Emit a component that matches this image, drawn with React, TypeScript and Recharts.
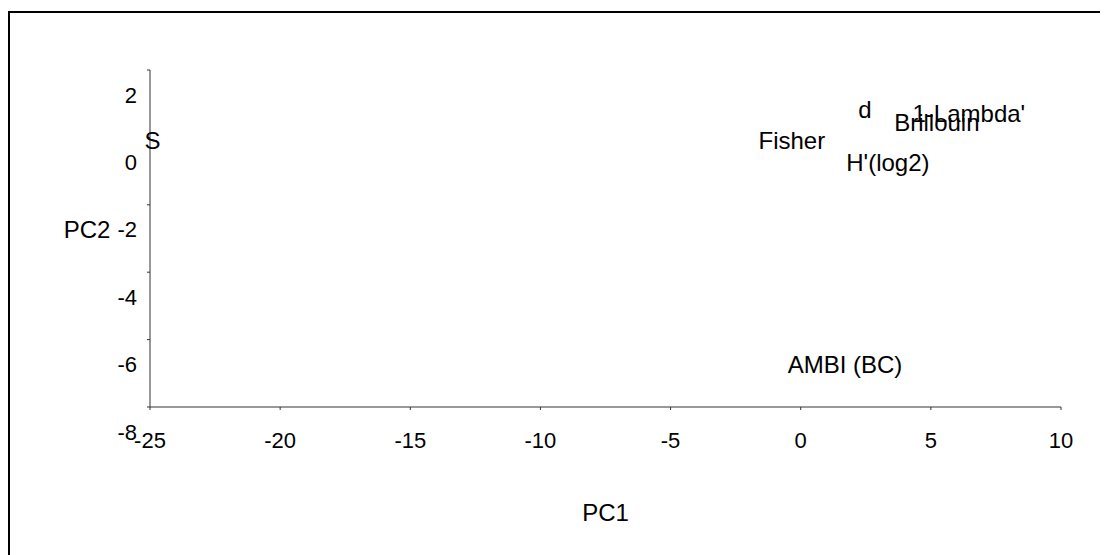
import { ScatterChart, Scatter, XAxis, YAxis } from 'recharts';

const names = ['S', 'd', 'Fisher', "H'(log2)", 'Brillouin', "1-Lambda'", 'AMBI (BC)'];
const pc1 = [-24.9, 2.47, -0.34, 3.35, 5.23, 6.46, 1.7];
const pc2 = [-0.08, 0.84, -0.08, -0.73, 0.43, 0.72, -6.75];
const xTicks = [-25, -20, -15, -10, -5, 0, 5, 10];
const yTicks = [-8, -6, -4, -2, 0, 2];

const points = names.map((name, i) => ({ name, x: pc1[i], y: pc2[i] }));

const font = 'Arial, "Liberation Sans", sans-serif';

const NameMark = (props: any) => {
    const { cx, cy, payload } = props;
    return (
        <text x={cx} y={cy} textAnchor="middle" dominantBaseline="central" fontSize={24} fontFamily={font} fill="#000">
            {payload.name}
        </text>
    );
};

const XTick = ({ x, y, payload }: any) => (
    <text x={x} y={y + 28} textAnchor="middle" dominantBaseline="central" fontSize={22} fontFamily={font} fill="#000">
        {payload.value}
    </text>
);

const YTick = ({ x, y, payload }: any) => (
    <text x={x - 8} y={y + 25} textAnchor="end" dominantBaseline="central" fontSize={22} fontFamily={font} fill="#000">
        {payload.value}
    </text>
);

const App = () => {
    return (
        <div style={{ marginTop: 3, width: 1100, height: 542, borderTop: '2px solid #000', borderLeft: '2px solid #000', background: '#fff' }}>
            <ScatterChart width={1098} height={540} margin={{ top: 57, right: 47, bottom: 26, left: 0 }}>
                <XAxis
                    type="number"
                    dataKey="x"
                    domain={[-25, 10]}
                    ticks={xTicks}
                    height={120}
                    stroke="#333"
                    tickSize={3}
                    tick={<XTick />}
                    label={(p: any) => {
                        const vb = p.viewBox;
                        return (
                            <text x={vb.x + vb.width / 2} y={vb.y + 105} textAnchor="middle" dominantBaseline="central" fontSize={24} fontFamily={font} fill="#000">
                                PC1
                            </text>
                        );
                    }}
                />
                <YAxis
                    type="number"
                    dataKey="y"
                    domain={[-8, 2]}
                    ticks={yTicks}
                    width={140}
                    stroke="#333"
                    tickSize={3}
                    tick={<YTick />}
                    label={(p: any) => {
                        const vb = p.viewBox;
                        return (
                            <text x={vb.x + 77} y={vb.y + vb.height / 2 - 9} textAnchor="middle" dominantBaseline="central" fontSize={24} fontFamily={font} fill="#000">
                                PC2
                            </text>
                        );
                    }}
                />
                <Scatter data={points} shape={<NameMark />} isAnimationActive={false} />
            </ScatterChart>
        </div>
    );
};

export default App;
